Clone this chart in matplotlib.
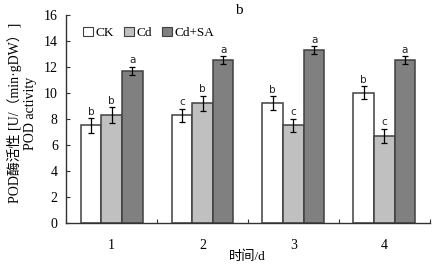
import matplotlib
matplotlib.use("Agg")
import matplotlib.pyplot as plt
import numpy as np
from matplotlib.patches import Patch

plt.rcParams['font.family'] = ['Liberation Serif', 'Noto Sans CJK SC']

days = ['1', '2', '3', '4']
series_names = ['CK', 'Cd', 'Cd+SA']
ck = [7.5, 8.3, 9.2, 10.0]
cd = [8.3, 9.2, 7.5, 6.7]
cdsa = [11.7, 12.5, 13.3, 12.5]
ck_err = [0.55, 0.5, 0.55, 0.5]
cd_err = [0.6, 0.6, 0.5, 0.55]
cdsa_err = [0.3, 0.3, 0.3, 0.3]
ck_let = ['b', 'c', 'b', 'b']
cd_let = ['b', 'b', 'c', 'c']
cdsa_let = ['a', 'a', 'a', 'a']

colors = ['#ffffff', '#c0c0c0', '#808080']
edge = '#404040'

fig = plt.figure(figsize=(4.32, 2.66), dpi=100)
ax = fig.add_axes([0.153, 0.162, 0.842, 0.782])

x = np.arange(1, len(days) + 1)
w = 0.227
vals = [ck, cd, cdsa]
errs = [ck_err, cd_err, cdsa_err]
lets = [ck_let, cd_let, cdsa_let]
for i in range(3):
    pos = x + (i - 1) * w
    ax.bar(pos, vals[i], width=w, color=colors[i], edgecolor=edge, linewidth=1.1, zorder=2)
    ax.errorbar(pos, vals[i], yerr=errs[i], fmt='none', ecolor='black', elinewidth=0.9,
                capsize=2.5, capthick=0.9, zorder=3)
    for p, v, e, l in zip(pos, vals[i], errs[i], lets[i]):
        ax.text(p, v + e + 0.12, l, ha='center', va='bottom', fontsize=7.5,
                family=['DejaVu Sans'], color='#222222')

ax.set_xlim(0.5, 4.5)
ax.set_ylim(0, 16)
ax.set_yticks(np.arange(0, 17, 2))
ax.set_xticks([0.5, 1.5, 2.5, 3.5, 4.5])
ax.set_xticklabels([])
ax.tick_params(axis='x', direction='in', length=3, color='#333333')
ax.tick_params(axis='y', direction='in', length=3, labelsize=10, color='#333333', pad=6)
for i, d in enumerate(days):
    ax.text(x[i], -1.7, d, ha='center', va='center', fontsize=10)
ax.spines['top'].set_visible(False)
ax.spines['right'].set_visible(False)
for s in ['left', 'bottom']:
    ax.spines[s].set_color('#333333')
    ax.spines[s].set_linewidth(1.0)

fig.text(0.572, 0.036, '时间/d', ha='center', va='center', fontsize=9.5)
fig.text(0.033, 0.575, 'POD酶活性 [U/（min·gDW）]', rotation=90, ha='center', va='center', fontsize=10)
fig.text(0.07, 0.575, 'POD activity', rotation=90, ha='center', va='center', fontsize=10)
fig.text(0.553, 0.962, 'b', ha='center', va='center', fontsize=11)

handles = [Patch(facecolor=c, edgecolor=edge, linewidth=0.8) for c in colors]
ax.legend(handles, series_names, loc='upper left', bbox_to_anchor=(0.015, 1.0), ncol=3,
          frameon=False, handlelength=0.7, handleheight=0.7, handletextpad=0.2,
          columnspacing=0.8, fontsize=9.5)

fig.savefig('out.png', dpi=100)
